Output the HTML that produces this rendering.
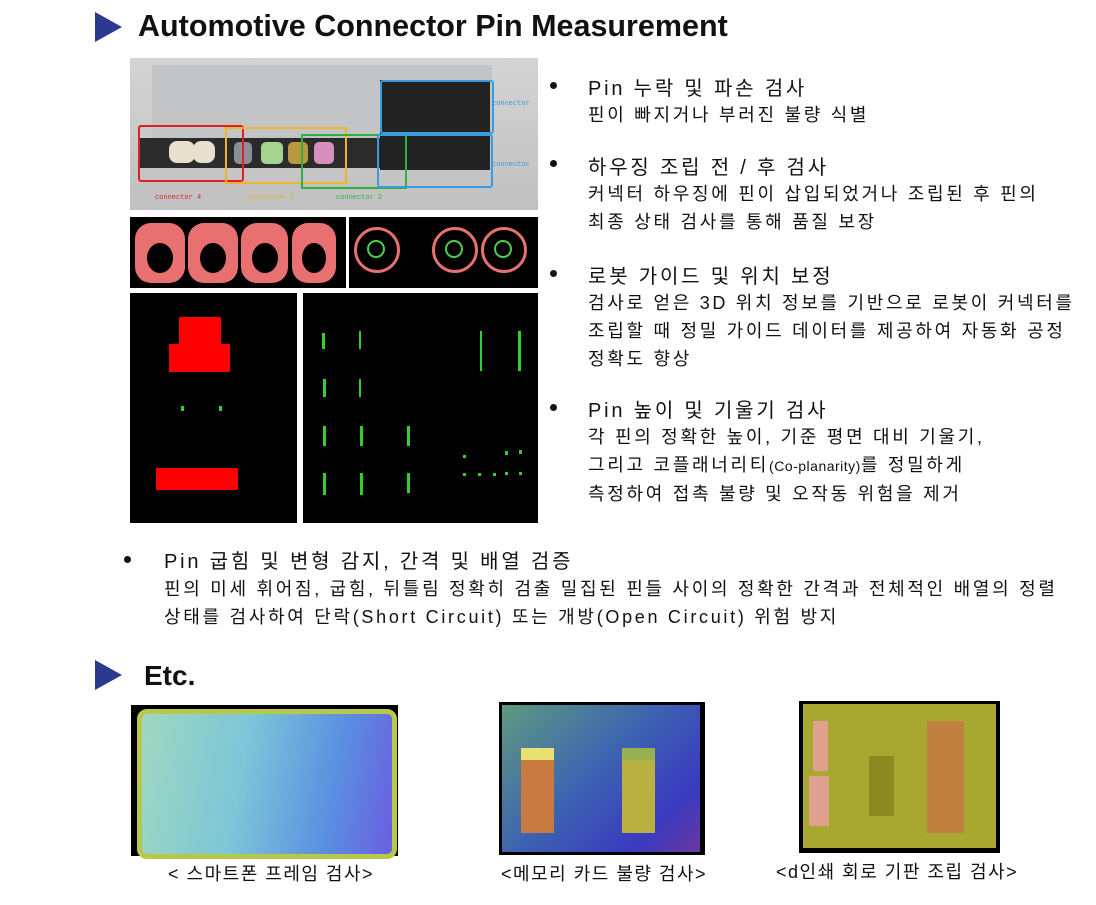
<!DOCTYPE html>
<html><head><meta charset="utf-8"><style>
body{margin:0;width:1096px;height:905px;background:#fff;position:relative;overflow:hidden;font-family:"Liberation Sans","Noto Sans CJK KR",sans-serif;color:#111}
.a{position:absolute}
.tri{width:0;height:0;border-top:15px solid transparent;border-bottom:15px solid transparent;border-left:27px solid #2b3a8f}
.h{font-size:20px;white-space:nowrap;letter-spacing:2.8px}
.s{font-size:18px;white-space:nowrap;line-height:28px;letter-spacing:2.7px}
.c{font-size:18px;white-space:nowrap;letter-spacing:1.5px}
.dot{position:absolute;width:7px;height:7px;border-radius:50%;background:#111}
.blk{background:#000;position:absolute}
.g{position:absolute;background:#2ed12e}
</style></head><body>
<div class="a tri" style="left:95px;top:12px"></div>
<div class="a" style="left:138px;top:9px;font-size:30.5px;font-weight:bold">Automotive Connector Pin Measurement</div>

<!-- photo -->
<div class="a" style="left:130px;top:58px;width:408px;height:152px;background:linear-gradient(#d4d4d4,#c0c0c0)">
 <div class="a" style="left:22px;top:7px;width:340px;height:100px;background:#c2c4c6"></div>
 <div class="a" style="left:8px;top:80px;width:330px;height:30px;background:#2b2b2b"></div>
 <div class="a" style="left:250px;top:22px;width:110px;height:90px;background:#222"></div>
 <div class="a" style="left:39px;top:83px;width:26px;height:22px;background:#e8e0cc;border-radius:8px"></div>
 <div class="a" style="left:63px;top:83px;width:22px;height:22px;background:#e8e0cc;border-radius:8px"></div>
 <div class="a" style="left:104px;top:84px;width:18px;height:22px;background:#8a8f99;border-radius:5px"></div>
 <div class="a" style="left:131px;top:84px;width:22px;height:22px;background:#a6d28f;border-radius:5px"></div>
 <div class="a" style="left:158px;top:84px;width:20px;height:22px;background:#b8993f;border-radius:5px"></div>
 <div class="a" style="left:184px;top:84px;width:20px;height:22px;background:#d98ec0;border-radius:5px"></div>
 <div class="a" style="left:8px;top:67px;width:102px;height:53px;border:2px solid #e02020;border-radius:3px"></div>
 <div class="a" style="left:95px;top:69px;width:118px;height:53px;border:2px solid #f0b428"></div>
 <div class="a" style="left:171px;top:76px;width:102px;height:51px;border:2px solid #30b040"></div>
 <div class="a" style="left:250px;top:22px;width:110px;height:50px;border:2px solid #3a9be0;border-radius:3px"></div>
 <div class="a" style="left:247px;top:76px;width:112px;height:50px;border:2px solid #3a9be0;border-radius:3px"></div>
 <div class="a" style="left:25px;top:136px;font-size:7px;color:#e02020;font-family:'Liberation Mono'">connector 4</div>
 <div class="a" style="left:118px;top:136px;font-size:7px;color:#e0b030;font-family:'Liberation Mono'">connector 3</div>
 <div class="a" style="left:206px;top:136px;font-size:7px;color:#30b040;font-family:'Liberation Mono'">connector 2</div>
 <div class="a" style="left:362px;top:42px;font-size:7px;color:#3a9be0;font-family:'Liberation Mono'">connector</div>
 <div class="a" style="left:362px;top:103px;font-size:7px;color:#3a9be0;font-family:'Liberation Mono'">connector</div>
</div>
<!-- row2 -->
<div class="blk" style="left:130px;top:217px;width:216px;height:71px">
 <div class="a" style="left:5px;top:6px;width:50px;height:60px;background:#e87070;border-radius:16px"></div>
 <div class="a" style="left:58px;top:6px;width:50px;height:60px;background:#e87070;border-radius:16px"></div>
 <div class="a" style="left:111px;top:6px;width:47px;height:60px;background:#e87070;border-radius:16px"></div>
 <div class="a" style="left:162px;top:6px;width:44px;height:60px;background:#e87070;border-radius:16px"></div>
 <div class="a" style="left:17px;top:26px;width:26px;height:30px;background:#000;border-radius:50%"></div>
 <div class="a" style="left:70px;top:26px;width:26px;height:30px;background:#000;border-radius:50%"></div>
 <div class="a" style="left:122px;top:26px;width:26px;height:30px;background:#000;border-radius:50%"></div>
 <div class="a" style="left:172px;top:26px;width:24px;height:30px;background:#000;border-radius:50%"></div>
</div>
<div class="blk" style="left:349px;top:217px;width:189px;height:71px">
 <div class="a" style="left:5px;top:10px;width:40px;height:40px;border:3px solid #e87070;border-radius:50%"></div>
 <div class="a" style="left:18px;top:23px;width:14px;height:14px;border:2px solid #4ed04e;border-radius:50%"></div>
 <div class="a" style="left:83px;top:10px;width:40px;height:40px;border:3px solid #e87070;border-radius:50%"></div>
 <div class="a" style="left:96px;top:23px;width:14px;height:14px;border:2px solid #4ed04e;border-radius:50%"></div>
 <div class="a" style="left:132px;top:10px;width:40px;height:40px;border:3px solid #e87070;border-radius:50%"></div>
 <div class="a" style="left:145px;top:23px;width:14px;height:14px;border:2px solid #4ed04e;border-radius:50%"></div>
</div>
<!-- row3 -->
<div class="blk" style="left:130px;top:293px;width:167px;height:230px">
 <div class="a" style="left:49px;top:24px;width:42px;height:27px;background:#f00"></div>
 <div class="a" style="left:39px;top:51px;width:61px;height:28px;background:#f00"></div>
 <div class="g" style="left:51px;top:113px;width:3px;height:5px"></div>
 <div class="g" style="left:89px;top:113px;width:3px;height:5px"></div>
 <div class="a" style="left:26px;top:175px;width:82px;height:22px;background:#f00"></div>
</div>
<div class="blk" style="left:303px;top:293px;width:235px;height:230px">
 <div class="g" style="left:19px;top:40px;width:3px;height:16px"></div>
 <div class="g" style="left:56px;top:38px;width:2px;height:18px"></div>
 <div class="g" style="left:177px;top:38px;width:2px;height:40px"></div>
 <div class="g" style="left:215px;top:38px;width:3px;height:40px"></div>
 <div class="g" style="left:20px;top:86px;width:3px;height:18px"></div>
 <div class="g" style="left:56px;top:86px;width:2px;height:18px"></div>
 <div class="g" style="left:20px;top:133px;width:3px;height:20px"></div>
 <div class="g" style="left:57px;top:133px;width:3px;height:20px"></div>
 <div class="g" style="left:104px;top:133px;width:3px;height:20px"></div>
 <div class="g" style="left:20px;top:180px;width:3px;height:22px"></div>
 <div class="g" style="left:57px;top:180px;width:3px;height:22px"></div>
 <div class="g" style="left:104px;top:180px;width:3px;height:20px"></div>
 <div class="g" style="left:160px;top:162px;width:3px;height:3px"></div>
 <div class="g" style="left:202px;top:158px;width:3px;height:4px"></div>
 <div class="g" style="left:216px;top:157px;width:3px;height:4px"></div>
 <div class="g" style="left:160px;top:180px;width:3px;height:3px"></div>
 <div class="g" style="left:175px;top:180px;width:3px;height:3px"></div>
 <div class="g" style="left:190px;top:180px;width:3px;height:3px"></div>
 <div class="g" style="left:202px;top:179px;width:3px;height:3px"></div>
 <div class="g" style="left:216px;top:179px;width:3px;height:3px"></div>
</div>

<!-- bullets -->
<div class="dot" style="left:550px;top:82px"></div>
<div class="a h" style="left:588px;top:72px">Pin 누락 및 파손 검사</div>
<div class="a s" style="left:588px;top:101px">핀이 빠지거나 부러진 불량 식별</div>
<div class="dot" style="left:550px;top:160px"></div>
<div class="a h" style="left:588px;top:151px">하우징 조립 전 / 후 검사</div>
<div class="a s" style="left:588px;top:180px">커넥터 하우징에 핀이 삽입되었거나 조립된 후 핀의<br>최종 상태 검사를 통해 품질 보장</div>
<div class="dot" style="left:550px;top:270px"></div>
<div class="a h" style="left:588px;top:260px">로봇 가이드 및 위치 보정</div>
<div class="a s" style="left:588px;top:289px">검사로 얻은 3D 위치 정보를 기반으로 로봇이 커넥터를 <br>조립할 때 정밀 가이드 데이터를 제공하여 자동화 공정<br>정확도 향상</div>
<div class="dot" style="left:550px;top:404px"></div>
<div class="a h" style="left:588px;top:394px">Pin 높이 및 기울기 검사</div>
<div class="a s" style="left:588px;top:423px">각 핀의 정확한 높이, 기준 평면 대비 기울기,<br>그리고 코플래너리티<span style="font-size:14px;letter-spacing:0.5px">(Co-planarity)</span>를 정밀하게<br>측정하여 접촉 불량 및 오작동 위험을 제거</div>
<div class="dot" style="left:124px;top:556px"></div>
<div class="a h" style="left:164px;top:545px">Pin 굽힘 및 변형 감지, 간격 및 배열 검증</div>
<div class="a s" style="left:164px;top:575px">핀의 미세 휘어짐, 굽힘, 뒤틀림 정확히 검출 밀집된 핀들 사이의 정확한 간격과 전체적인 배열의 정렬<br>상태를 검사하여 단락(Short Circuit) 또는 개방(Open Circuit) 위험 방지</div>

<div class="a tri" style="left:95px;top:660px"></div>
<div class="a" style="left:144px;top:660px;font-size:28px;font-weight:bold">Etc.</div>

<div class="a" style="left:131px;top:705px;width:267px;height:151px;background:#000">
 <div class="a" style="left:6px;top:4px;width:250px;height:140px;border-radius:10px;background:linear-gradient(100deg,#9fd8c0,#7cc6d8 40%,#5a8fe0 75%,#6a5ee0);border:5px solid #b8c84a"></div>
</div>
<div class="a" style="left:499px;top:702px;width:206px;height:153px;background:#000">
 <div class="a" style="left:3px;top:3px;width:198px;height:147px;background:linear-gradient(135deg,#5e9a80,#3d64b0 45%,#3a3ac0 80%,#6a38a0)"></div>
 <div class="a" style="left:22px;top:46px;width:33px;height:73px;background:#c87a40;border-top:12px solid #e8e070"></div>
 <div class="a" style="left:123px;top:46px;width:33px;height:73px;background:#b8b040;border-top:12px solid #98b050"></div>
</div>
<div class="a" style="left:799px;top:701px;width:201px;height:152px;background:#000">
 <div class="a" style="left:4px;top:3px;width:193px;height:144px;background:#a8a830"></div>
 <div class="a" style="left:14px;top:20px;width:15px;height:50px;background:#e0a090"></div>
 <div class="a" style="left:10px;top:75px;width:20px;height:50px;background:#e0a090"></div>
 <div class="a" style="left:128px;top:20px;width:37px;height:112px;background:#c08040"></div>
 <div class="a" style="left:70px;top:55px;width:25px;height:60px;background:#8a8a20"></div>
</div>
<div class="a c" style="left:168px;top:860px">&lt; 스마트폰 프레임 검사&gt;</div>
<div class="a c" style="left:501px;top:860px">&lt;메모리 카드 불량 검사&gt;</div>
<div class="a c" style="left:776px;top:858px">&lt;d인쇄 회로 기판 조립 검사&gt;</div>
</body></html>
